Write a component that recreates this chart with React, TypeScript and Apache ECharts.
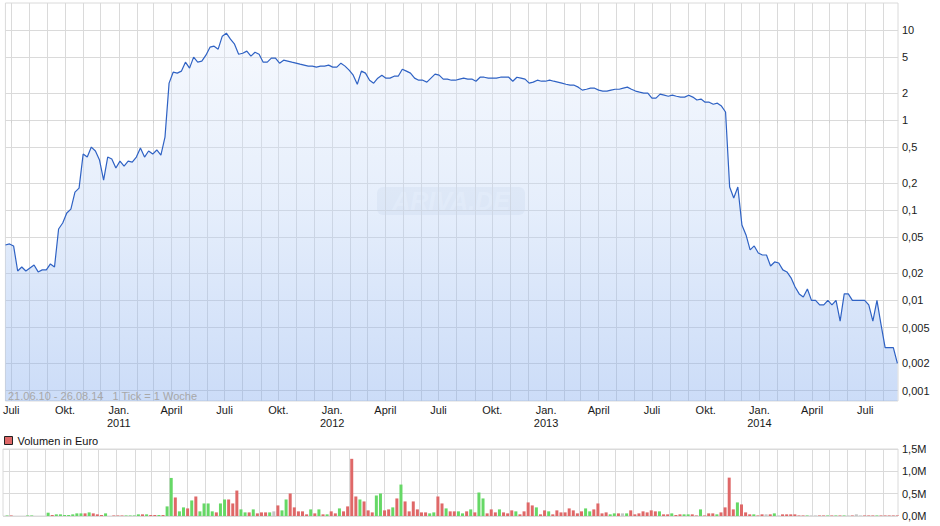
import React, { useEffect, useRef } from 'react';
import * as echarts from 'echarts';

// ---------- DATA ----------
const startDate = '2010-06-21';
const endDate = '2014-08-26';

// weekly closing prices (EUR), 21.06.10 .. 25.08.14
const prices = [
  0.0412, 0.0423, 0.0402, 0.0212, 0.0235, 0.0212, 0.0229, 0.0247, 0.0207, 0.0218,
  0.0218, 0.0254, 0.0235, 0.062, 0.0722, 0.0933, 0.103, 0.159, 0.176, 0.42,
  0.389, 0.502, 0.454, 0.36, 0.216, 0.389, 0.37, 0.294, 0.351, 0.309,
  0.351, 0.342, 0.389, 0.49, 0.389, 0.454, 0.42, 0.466, 0.409, 0.648,
  2.57, 3.4, 3.32, 3.49, 4.39, 3.77, 4.99, 4.39, 4.51, 5.25,
  6.44, 6.61, 6.12, 8.53, 9.2, 7.9, 6.95, 5.38, 5.52, 5.82,
  5.12, 5.66, 5.38, 4.39, 4.39, 4.86, 4.86, 4.28, 4.62, 4.51,
  4.39, 4.28, 4.17, 4.07, 3.97, 3.97, 3.87, 3.97, 3.97, 4.07,
  3.87, 3.87, 4.28, 3.97, 3.58, 3.15, 2.5, 3.49, 3.32, 2.77,
  2.57, 2.92, 3.15, 2.92, 2.92, 3.07, 3.07, 3.67, 3.49, 3.32,
  2.92, 2.77, 2.77, 2.64, 2.92, 3.23, 3.15, 2.85, 2.85, 2.77,
  2.77, 2.85, 2.92, 2.85, 2.85, 2.7, 2.99, 2.99, 2.92, 2.92,
  2.92, 2.99, 2.99, 2.99, 2.7, 2.99, 2.92, 2.85, 2.57, 2.64,
  2.77, 2.7, 2.7, 2.77, 2.7, 2.64, 2.57, 2.5, 2.44, 2.44,
  2.32, 2.15, 2.2, 2.26, 2.26, 2.15, 2.1, 2.1, 2.15, 2.2,
  2.2, 2.26, 2.32, 2.2, 2.1, 2.04, 1.99, 1.99, 1.75, 1.75,
  1.94, 1.89, 1.84, 1.89, 1.84, 1.8, 1.8, 1.89, 1.8, 1.67,
  1.71, 1.58, 1.58, 1.5, 1.54, 1.43, 1.23, 0.181, 0.137, 0.181,
  0.0687, 0.0532, 0.0363, 0.0402, 0.0336, 0.0319, 0.0319, 0.0241, 0.0267, 0.026,
  0.0218, 0.0207, 0.0178, 0.0141, 0.0118, 0.0109, 0.0134, 0.01, 0.01, 0.0089,
  0.0089, 0.01, 0.0089, 0.01, 0.0059, 0.0118, 0.0118, 0.01, 0.01, 0.01,
  0.01, 0.0089, 0.0059, 0.01, 0.0054, 0.003, 0.003, 0.003, 0.002,
];

// weekly volume in million EUR
const volumes = [
  0, 0.012, 0.012, 0, 0, 0, 0.012, 0.012, 0, 0,
  0, 0.074, 0.022, 0.037, 0.037, 0.022, 0.022, 0.037, 0.059, 0.059,
  0.059, 0.081, 0.059, 0.037, 0.022, 0.059, 0, 0.012, 0.012, 0.012,
  0.012, 0.012, 0.012, 0.037, 0.037, 0.037, 0.022, 0.022, 0.022, 0.022,
  0.215, 0.852, 0.415, 0.104, 0.193, 0.17, 0.348, 0.437, 0.104, 0.281,
  0.281, 0.104, 0.081, 0.281, 0.37, 0.37, 0.281, 0.57, 0.148, 0.081,
  0.081, 0.148, 0.059, 0.081, 0.081, 0.081, 0.104, 0.237, 0.126, 0.37,
  0.504, 0.193, 0.104, 0.104, 0.037, 0.148, 0.059, 0.148, 0.037, 0.037,
  0.104, 0.059, 0.17, 0.104, 0.215, 1.28, 0.437, 0.37, 0.326, 0.126,
  0.081, 0.459, 0.504, 0.126, 0.148, 0.193, 0.393, 0.704, 0.326, 0.104,
  0.326, 0.148, 0.081, 0.081, 0.059, 0.081, 0.437, 0.281, 0.17, 0.104,
  0.104, 0.104, 0.059, 0.104, 0.148, 0.081, 0.526, 0.393, 0.059, 0.148,
  0.081, 0.148, 0.081, 0.059, 0.126, 0.104, 0.037, 0.104, 0.304, 0.237,
  0.193, 0.037, 0.126, 0.104, 0.037, 0.126, 0.081, 0.081, 0.17, 0.126,
  0.059, 0.104, 0.17, 0.104, 0.148, 0.281, 0.059, 0.081, 0.037, 0.059,
  0.059, 0.059, 0.059, 0.126, 0.037, 0.059, 0.104, 0.081, 0.126, 0.104,
  0.104, 0.037, 0.037, 0.059, 0.022, 0.037, 0.037, 0.037, 0.037, 0.012,
  0.148, 0.012, 0.059, 0.059, 0.037, 0.081, 0.193, 0.859, 0.148, 0.304,
  0.259, 0.081, 0.037, 0.037, 0.012, 0.037, 0.037, 0.037, 0.059, 0.012,
  0.037, 0.037, 0.037, 0.037, 0.012, 0.012, 0.012, 0.012, 0.012, 0.012,
  0.012, 0.012, 0.012, 0.012, 0.012, 0.012, 0.012, 0.012, 0.037, 0.012,
  0.012, 0.012, 0.012, 0.012, 0.012, 0.012, 0.012, 0.012, 0.012,
];

// u = up (green), d = down (red), n = unchanged (grey)
const volumeTrend = (
  'n u d n n n u u n n ' +
  'n u d u u u u u u u ' +
  'd u d d d u n d d d ' +
  'u u u u d u d d u d ' +
  'u u d u u d u d u u ' +
  'u u d u u d d d u u ' +
  'd u d d d u n d u u ' +
  'd d d d d u d u d u ' +
  'd d u d d d d u d d ' +
  'd u u d d u d u d d ' +
  'd d d d u u d d u d ' +
  'd u u d u d u u d d ' +
  'd u d d d u d d d d ' +
  'u d d u d d d d d d ' +
  'd d u u d d d d u u ' +
  'd n u d d d d d d d ' +
  'u d d u d d u u d d ' +
  'u d d d u d d d d u ' +
  'd d d u d d n d u n ' +
  'd d d d d d u n n d ' +
  'd u d u d u n d n n ' +
  'd d d u d d d d d'
).trim().split(' ');

const priceTicks = [0.001, 0.002, 0.005, 0.01, 0.02, 0.05, 0.1, 0.2, 0.5, 1, 2, 5, 10];
const priceTickLabels = ['0,001', '0,002', '0,005', '0,01', '0,02', '0,05', '0,1', '0,2', '0,5', '1', '2', '5', '10'];
const priceAxisMin = 0.000766;
const priceAxisMax = 19.9;

const volumeTicks = [0, 0.5, 1, 1.5];
const volumeTickLabels = ['0,0M', '0,5M', '1,0M', '1,5M'];

const quarterDates = [
  '2010-07-01', '2010-10-01', '2011-01-01', '2011-04-01', '2011-07-01', '2011-10-01',
  '2012-01-01', '2012-04-01', '2012-07-01', '2012-10-01', '2013-01-01', '2013-04-01',
  '2013-07-01', '2013-10-01', '2014-01-01', '2014-04-01', '2014-07-01',
];
const quarterLabels = [
  'Juli', 'Okt.', 'Jan.\n2011', 'April', 'Juli', 'Okt.',
  'Jan.\n2012', 'April', 'Juli', 'Okt.', 'Jan.\n2013', 'April',
  'Juli', 'Okt.', 'Jan.\n2014', 'April', 'Juli',
];

const rangeNote = '21.06.10 - 26.08.14   1 Tick = 1 Woche';
const volumeLegend = 'Volumen in Euro';
const watermarkText = 'ARIVA.DE';

// ---------- HELPERS ----------
const DAY = 86400000;
const ts = (s: string) => {
  const [y, m, d] = s.split('-').map(Number);
  return Date.UTC(y, m - 1, d);
};
const t0 = ts(startDate);
const t1 = ts(endDate);
const weekDates = prices.map((_, i) => t0 + i * 7 * DAY);

const monthTicks: number[] = [];
{
  let y = 2010, m = 6; // July 2010 (0-based month)
  while (Date.UTC(y, m, 1) <= t1) {
    monthTicks.push(Date.UTC(y, m, 1));
    m++;
    if (m > 11) { m = 0; y++; }
  }
}
const quarterTs = quarterDates.map(ts);
const priceTickLogs = priceTicks.map((v) => Math.log10(v));

const FONT = '"Liberation Sans", Arial, Helvetica, sans-serif';
const GRID_COLOR = '#dadada';
const TREND_COLORS: Record<string, string> = { u: '#66d866', d: '#df6868', n: '#c4c4c4' };

function nearestLabel(v: number, keys: number[], labels: string[], tol: number) {
  for (let i = 0; i < keys.length; i++) {
    if (Math.abs(keys[i] - v) < tol) return labels[i];
  }
  return '';
}

export default function App() {
  const ref = useRef<HTMLDivElement>(null);

  useEffect(() => {
    if (!ref.current) return;
    const chart = echarts.init(ref.current, undefined, { renderer: 'svg' });

    const areaGradient = new echarts.graphic.LinearGradient(
      0, 3, 0, 401,
      [
        { offset: 0, color: 'rgba(238,243,253,0.55)' },
        { offset: 0.5, color: 'rgba(190,212,246,0.55)' },
        { offset: 1, color: 'rgba(122,165,236,0.55)' },
      ],
      true
    );

    const option: any = {
      animation: false,
      backgroundColor: '#ffffff',
      textStyle: { fontFamily: FONT },
      grid: [
        { left: 3, right: 42, top: 3, height: 398, show: true, borderColor: GRID_COLOR, borderWidth: 1, containLabel: false },
        { left: 3, right: 42, top: 449, height: 67, show: true, borderColor: GRID_COLOR, borderWidth: 1, containLabel: false },
      ],
      legend: {
        data: [volumeLegend],
        left: 4,
        top: 435,
        padding: 0,
        icon: 'rect',
        itemWidth: 8,
        itemHeight: 8,
        itemStyle: { borderColor: '#222', borderWidth: 1 },
        textStyle: { fontSize: 11, color: '#111', fontFamily: FONT },
        selectedMode: false,
      },
      xAxis: [
        {
          type: 'value',
          gridIndex: 0,
          min: t0,
          max: t1,
          axisLine: { show: true, lineStyle: { color: GRID_COLOR } },
          axisTick: { show: true, customValues: monthTicks, length: 3, lineStyle: { color: '#d0d0d0' } },
          splitLine: { show: true, lineStyle: { color: GRID_COLOR, width: 1 } },
          axisLabel: {
            customValues: quarterTs,
            formatter: (v: number) => nearestLabel(v, quarterTs, quarterLabels, DAY),
            color: '#1a1a1a',
            fontSize: 11,
            fontFamily: FONT,
            lineHeight: 13,
            margin: 2,
            hideOverlap: false,
          },
        },
        {
          type: 'value',
          gridIndex: 1,
          min: t0,
          max: t1,
          axisLine: { show: false },
          axisTick: { show: false, customValues: monthTicks },
          splitLine: { show: true, lineStyle: { color: GRID_COLOR, width: 1 } },
          axisLabel: { show: false },
        },
      ],
      yAxis: [
        {
          type: 'value',
          gridIndex: 0,
          position: 'right',
          min: Math.log10(priceAxisMin),
          max: Math.log10(priceAxisMax),
          axisLine: { show: false },
          axisTick: { show: false, customValues: priceTickLogs },
          splitLine: { show: true, lineStyle: { color: GRID_COLOR, width: 1 } },
          axisLabel: {
            customValues: priceTickLogs,
            formatter: (v: number) => nearestLabel(v, priceTickLogs, priceTickLabels, 1e-6),
            color: '#1a1a1a',
            fontSize: 11,
            fontFamily: FONT,
            margin: 4,
          },
        },
        {
          type: 'value',
          gridIndex: 1,
          position: 'right',
          min: 0,
          max: 1.5,
          interval: 0.5,
          axisLine: { show: false },
          axisTick: { show: false },
          splitLine: { show: true, lineStyle: { color: GRID_COLOR, width: 1 } },
          axisLabel: {
            formatter: (v: number) => nearestLabel(v, volumeTicks, volumeTickLabels, 1e-6),
            color: '#1a1a1a',
            fontSize: 11,
            fontFamily: FONT,
            margin: 4,
          },
        },
      ],
      series: [
        {
          name: 'Kurs',
          type: 'line',
          xAxisIndex: 0,
          yAxisIndex: 0,
          data: weekDates.map((d, i) => [d, Math.log10(prices[i])]),
          showSymbol: false,
          symbol: 'none',
          lineStyle: { color: '#2f62c4', width: 1.2 },
          areaStyle: { color: areaGradient, origin: 'start' },
          z: 3,
        },
        {
          name: volumeLegend,
          type: 'bar',
          xAxisIndex: 1,
          yAxisIndex: 1,
          barWidth: 3,
          itemStyle: { color: '#df6868' },
          data: weekDates.map((d, i) => ({
            value: [d, volumes[i]],
            itemStyle: { color: TREND_COLORS[volumeTrend[i]] || TREND_COLORS.n },
          })),
          z: 3,
        },
      ],
      graphic: [
        {
          type: 'group',
          silent: true,
          z: 1,
          children: [
            {
              type: 'rect',
              shape: { x: 377, y: 187, width: 148, height: 28, r: 6 },
              style: { fill: 'rgba(140,160,195,0.13)' },
            },
            {
              type: 'text',
              x: 451,
              y: 201,
              style: {
                text: watermarkText,
                font: `italic bold 25px ${FONT}`,
                fill: 'rgba(255,255,255,0.55)',
                textAlign: 'center',
                textVerticalAlign: 'middle',
              },
            },
          ],
        },
        {
          type: 'text',
          silent: true,
          x: 8,
          y: 396,
          z: 10,
          style: {
            text: rangeNote,
            font: `11px ${FONT}`,
            fill: '#a8a8a8',
            textVerticalAlign: 'middle',
          },
        },
      ],
    };

    chart.setOption(option);
    return () => chart.dispose();
  }, []);

  return (
    <div
      ref={ref}
      style={{ position: 'fixed', left: 0, top: 0, width: 940, height: 526, background: '#fff' }}
    />
  );
}
